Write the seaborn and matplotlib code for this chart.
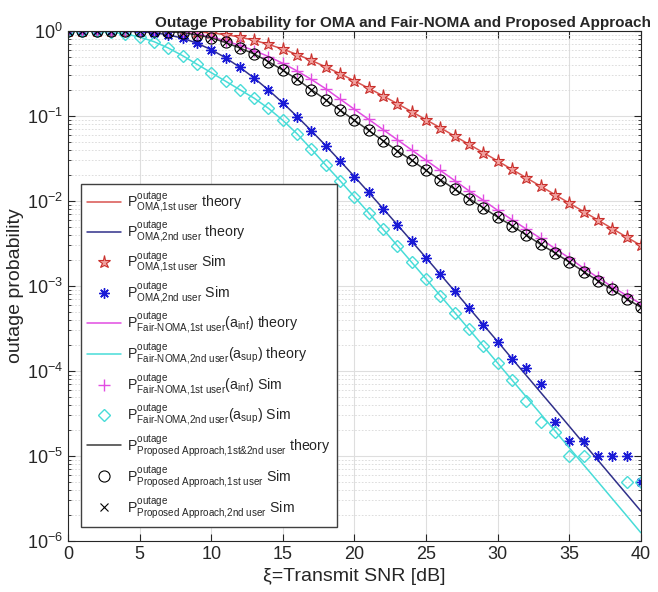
import matplotlib
matplotlib.use("Agg")
import matplotlib.pyplot as plt
import numpy as np
import seaborn as sns
from matplotlib.ticker import LogLocator, NullFormatter, MultipleLocator

# transmit SNR grid [dB]
snr_db = list(range(0, 41))

# OMA, 1st user (theory and simulation coincide)
oma1_theory = [1.0, 1.0, 1.0, 1.0, 1.0, 0.9999, 0.9995, 0.9975, 0.9914, 0.9771,
               0.9502, 0.9077, 0.8494, 0.7777, 0.6970, 0.6127, 0.5293, 0.4504, 0.3784, 0.3145,
               0.2592, 0.2120, 0.1725, 0.1396, 0.1125, 0.0905, 0.0726, 0.0581, 0.0464, 0.0371,
               0.0296, 0.0235, 0.0188, 0.0149, 0.0119, 0.00944, 0.00751, 0.00597, 0.00474, 0.00377,
               0.00300]
oma1_sim = [1.0, 1.0, 1.0, 1.0, 1.0, 0.9999, 0.9995, 0.9975, 0.9914, 0.9771,
            0.9502, 0.9077, 0.8494, 0.7777, 0.6970, 0.6127, 0.5293, 0.4504, 0.3784, 0.3145,
            0.2592, 0.2120, 0.1725, 0.1396, 0.1125, 0.0905, 0.0726, 0.0581, 0.0464, 0.0371,
            0.0296, 0.0235, 0.0188, 0.0149, 0.0119, 0.00944, 0.00751, 0.00597, 0.00474, 0.00377,
            0.00300]

# OMA, 2nd user
oma2_theory = [1.0, 1.0, 1.0, 0.9989, 0.9949, 0.9826, 0.9543, 0.9023, 0.8230, 0.7203,
               0.6035, 0.4846, 0.3744, 0.2793, 0.2022, 0.1427, 0.0985, 0.0669, 0.0448, 0.0296,
               0.0194, 0.01261, 0.00815, 0.00525, 0.00336, 0.00215, 0.00137, 8.70e-4, 5.52e-4, 3.50e-4,
               2.22e-4, 1.40e-4, 8.87e-5, 5.61e-5, 3.55e-5, 2.24e-5, 1.41e-5, 8.93e-6, 5.64e-6, 3.56e-6,
               2.25e-6]
oma2_sim = [1.0, 1.0, 1.0, 0.9989, 0.9949, 0.9826, 0.9543, 0.9023, 0.8230, 0.7203,
            0.6035, 0.4846, 0.3744, 0.2793, 0.2022, 0.1427, 0.0985, 0.0669, 0.0448, 0.0296,
            0.0194, 0.01261, 0.00815, 0.00525, 0.00336, 0.00215, 0.00137, 8.70e-4, 5.52e-4, 3.50e-4,
            2.22e-4, 1.40e-4, 1.10e-4, 7.0e-5, 2.5e-5, 1.5e-5, 1.5e-5, 1.0e-5, 1.0e-5, 1.0e-5,
            5.0e-6]

# Fair-NOMA, 1st user (a_inf)
fair1_theory = [1.0, 1.0, 1.0, 1.0, 1.0, 0.9993, 0.997, 0.988, 0.967, 0.925,
                0.851, 0.767, 0.676, 0.589, 0.501, 0.417, 0.339, 0.269, 0.209, 0.158,
                0.120, 0.0912, 0.0692, 0.0525, 0.0398, 0.0302, 0.0229, 0.0174, 0.0132, 0.0102,
                0.00776, 0.00603, 0.00468, 0.00363, 0.00275, 0.00214, 0.00162, 0.00126, 9.77e-4, 7.76e-4,
                6.17e-4]
fair1_sim = [1.0, 1.0, 1.0, 1.0, 1.0, 0.9993, 0.997, 0.988, 0.967, 0.925,
             0.851, 0.767, 0.676, 0.589, 0.501, 0.417, 0.339, 0.269, 0.209, 0.158,
             0.120, 0.0912, 0.0692, 0.0525, 0.0398, 0.0302, 0.0229, 0.0174, 0.0132, 0.0102,
             0.00776, 0.00603, 0.00468, 0.00363, 0.00275, 0.00214, 0.00162, 0.00126, 9.77e-4, 7.76e-4,
             6.17e-4]

# Fair-NOMA, 2nd user (a_sup)
fair2_theory = [1.0, 0.998, 0.991, 0.970, 0.923, 0.851, 0.750, 0.631, 0.513, 0.407,
                0.324, 0.257, 0.204, 0.162, 0.123, 0.089, 0.0617, 0.0407, 0.0264, 0.0173,
                0.0112, 0.00725, 0.00466, 0.00298, 0.00190, 0.00121, 7.70e-4, 4.88e-4, 3.10e-4, 1.96e-4,
                1.24e-4, 7.84e-5, 4.96e-5, 3.13e-5, 1.98e-5, 1.25e-5, 7.89e-6, 4.99e-6, 3.15e-6, 1.99e-6,
                1.25e-6]
fair2_sim = [1.0, 0.998, 0.991, 0.970, 0.923, 0.851, 0.750, 0.631, 0.513, 0.407,
             0.324, 0.257, 0.204, 0.162, 0.123, 0.089, 0.0617, 0.0407, 0.0264, 0.0173,
             0.0112, 0.00725, 0.00466, 0.00298, 0.00190, 0.00121, 7.70e-4, 4.88e-4, 3.10e-4, 1.96e-4,
             1.24e-4, 7.84e-5, 4.5e-5, 2.5e-5, 1.9e-5, 1.0e-5, 1.0e-5, np.nan, np.nan, 5.0e-6,
             5.0e-6]

# Proposed approach
prop_theory = [1.0, 1.0, 1.0, 1.0, 1.0, 0.9989, 0.9954, 0.9817, 0.955, 0.9016,
               0.8318, 0.7328, 0.631, 0.537, 0.4365, 0.3467, 0.2692, 0.2042, 0.1549, 0.1175,
               0.0891, 0.0676, 0.0513, 0.0389, 0.0302, 0.0229, 0.0178, 0.0138, 0.0107, 0.00832,
               0.00646, 0.00513, 0.00398, 0.00309, 0.00245, 0.00191, 0.00148, 0.00115, 9.12e-4, 7.08e-4,
               5.62e-4]
prop1_sim = list(prop_theory)
prop2_sim = list(prop_theory)

labels = [
    r"P$^{outage}_{\text{OMA,1st user}}$ theory",
    r"P$^{outage}_{\text{OMA,2nd user}}$ theory",
    r"P$^{outage}_{\text{OMA,1st user}}$ Sim",
    r"P$^{outage}_{\text{OMA,2nd user}}$ Sim",
    r"P$^{outage}_{\text{Fair-NOMA,1st user}}$(a$_{inf}$) theory",
    r"P$^{outage}_{\text{Fair-NOMA,2nd user}}$(a$_{sup}$) theory",
    r"P$^{outage}_{\text{Fair-NOMA,1st user}}$(a$_{inf}$) Sim",
    r"P$^{outage}_{\text{Fair-NOMA,2nd user}}$(a$_{sup}$) Sim",
    r"P$^{outage}_{\text{Proposed Approach,1st\&2nd user}}$ theory",
    r"P$^{outage}_{\text{Proposed Approach,1st user}}$ Sim",
    r"P$^{outage}_{\text{Proposed Approach,2nd user}}$ Sim",
]

sns.set_style("ticks")
plt.rcParams["font.family"] = ["Liberation Sans", "DejaVu Sans"]
plt.rcParams["mathtext.fontset"] = "custom"
plt.rcParams["mathtext.rm"] = "Liberation Sans"
plt.rcParams["mathtext.it"] = "Liberation Sans"
plt.rcParams["mathtext.default"] = "regular"

red = "#d9534f"
navy = "#30308a"
blue = "#1a1ad6"
magenta = "#e24de2"
cyan = "#48dcd8"
dark = "#3a3a3a"

fig, ax = plt.subplots(figsize=(6.58, 5.92), dpi=100)
fig.subplots_adjust(left=0.1033, right=0.974, top=0.9476, bottom=0.0861)
ax.set_yscale("log")

h = []
line_kw = dict(ax=ax, estimator=None, legend=False)
mk_kw = dict(ax=ax, estimator=None, legend=False, linestyle="none")

h.append(sns.lineplot(x=snr_db, y=oma1_theory, color=red, lw=1.1, **line_kw).lines[-1])
h.append(sns.lineplot(x=snr_db, y=oma2_theory, color=navy, lw=1.1, **line_kw).lines[-1])
h.append(sns.lineplot(x=snr_db, y=oma1_sim, color=red, marker="*", markersize=9.5,
                      markerfacecolor="#f0a09e", markeredgecolor="#c9302c", markeredgewidth=0.8, **mk_kw).lines[-1])
h.append(sns.lineplot(x=snr_db, y=oma2_sim, color=blue, marker=(8, 2, 0), markersize=7.5,
                      markeredgecolor=blue, markeredgewidth=1.0, **mk_kw).lines[-1])
h.append(sns.lineplot(x=snr_db, y=fair1_theory, color=magenta, lw=1.1, **line_kw).lines[-1])
h.append(sns.lineplot(x=snr_db, y=fair2_theory, color=cyan, lw=1.1, **line_kw).lines[-1])
h.append(sns.lineplot(x=snr_db, y=fair1_sim, color=magenta, marker="+", markersize=8,
                      markeredgecolor=magenta, markeredgewidth=1.0, **mk_kw).lines[-1])
h.append(sns.lineplot(x=snr_db, y=fair2_sim, color=cyan, marker="D", markersize=6.5,
                      markerfacecolor="none", markeredgecolor=cyan, markeredgewidth=1.0, **mk_kw).lines[-1])
h.append(sns.lineplot(x=snr_db, y=prop_theory, color=dark, lw=1.1, **line_kw).lines[-1])
h.append(sns.lineplot(x=snr_db, y=prop1_sim, color="black", marker="o", markersize=8,
                      markerfacecolor="none", markeredgecolor="black", markeredgewidth=0.8, **mk_kw).lines[-1])
h.append(sns.lineplot(x=snr_db, y=prop2_sim, color="black", marker="x", markersize=5.5,
                      markeredgecolor="black", markeredgewidth=0.8, **mk_kw).lines[-1])

ax.set_xlim(0, 40)
ax.set_ylim(1e-6, 1)
ax.xaxis.set_major_locator(MultipleLocator(5))
ax.yaxis.set_major_locator(LogLocator(base=10, numticks=10))
ax.yaxis.set_minor_locator(LogLocator(base=10, subs=np.arange(2, 10), numticks=20))
ax.yaxis.set_minor_formatter(NullFormatter())

ax.grid(True, which="major", color="#dedede", lw=0.8)
ax.grid(True, which="minor", axis="y", color="#d8d8d8", lw=0.6, ls=(0, (2, 2)))
ax.set_axisbelow(True)

ax.tick_params(which="both", direction="in", top=True, right=True, colors="#262626", labelsize=13)
ax.tick_params(which="major", length=5)
ax.tick_params(which="minor", length=2.5)
for sp in ax.spines.values():
    sp.set_color("#262626")
    sp.set_linewidth(0.8)

ax.set_title("Outage Probability for OMA and Fair-NOMA and Proposed Approach",
             fontsize=11, fontweight="bold", pad=3, x=0.585)
ax.set_xlabel("ξ=Transmit SNR [dB]", fontsize=14, labelpad=4)
ax.set_ylabel("outage probability", fontsize=14, labelpad=2)

leg = ax.legend(h, labels, loc="lower left", bbox_to_anchor=(0.0227, 0.0275), borderaxespad=0,
                fontsize=10.2, fancybox=False, framealpha=1, edgecolor="#404040", handlelength=2.4,
                labelspacing=0.38, borderpad=0.45, handletextpad=0.4)
leg.get_frame().set_linewidth(1.0)

fig.savefig("out.png", dpi=100)
